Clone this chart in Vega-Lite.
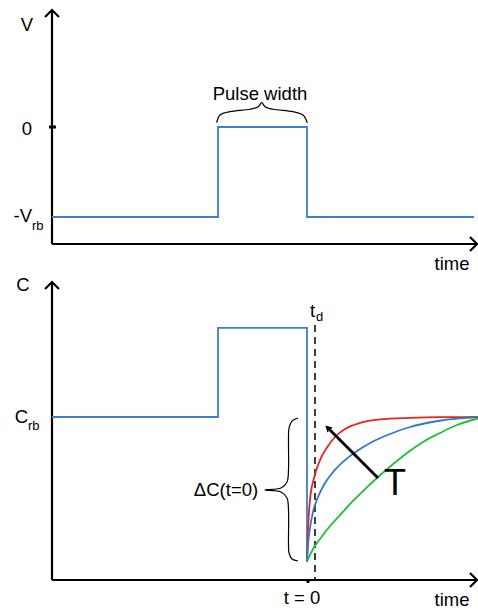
{
  "$schema": "https://vega.github.io/schema/vega-lite/v6.json",
  "padding": 0,
  "spacing": 0,
  "bounds": "flush",
  "background": "white",
  "config": {"view": {"stroke": null}, "text": {"font": "Liberation Sans", "fill": "#000000"}},
  "datasets": {
    "topAxes": [
      {"part": "yaxis", "i": 0, "t": -25.5, "v": -1.3}, {"part": "yaxis", "i": 1, "t": -25.5, "v": 1.3},
      {"part": "xaxis", "i": 0, "t": -25.5, "v": -1.3}, {"part": "xaxis", "i": 1, "t": 16.9, "v": -1.3},
      {"part": "yarrow", "i": 0, "t": -26.2, "v": 1.222}, {"part": "yarrow", "i": 1, "t": -25.5, "v": 1.3}, {"part": "yarrow", "i": 2, "t": -24.8, "v": 1.222},
      {"part": "xarrow", "i": 0, "t": 16.3, "v": -1.222}, {"part": "xarrow", "i": 1, "t": 17.0, "v": -1.3}, {"part": "xarrow", "i": 2, "t": 16.3, "v": -1.378}
    ],
    "topTick": [{"i": 0, "t": -25.8, "v": 0}, {"i": 1, "t": -25.1, "v": 0}],
    "vPulse": [
      {"i": 0, "t": -25.5, "v": -1}, {"i": 1, "t": -8.9, "v": -1}, {"i": 2, "t": -8.9, "v": 0},
      {"i": 3, "t": 0, "v": 0}, {"i": 4, "t": 0, "v": -1}, {"i": 5, "t": 16.7, "v": -1}
    ],
    "topBrace": [
      {"i": 0, "t": -9.03, "v": 0.048}, {"i": 1, "t": -8.7, "v": 0.133}, {"i": 2, "t": -7.7, "v": 0.17},
      {"i": 3, "t": -5.7, "v": 0.197}, {"i": 4, "t": -4.87, "v": 0.226}, {"i": 5, "t": -4.53, "v": 0.27},
      {"i": 6, "t": -4.2, "v": 0.226}, {"i": 7, "t": -3.4, "v": 0.197}, {"i": 8, "t": -1.4, "v": 0.17},
      {"i": 9, "t": -0.4, "v": 0.133}, {"i": 10, "t": 0.03, "v": 0.048}
    ],
    "topLabels": [
      {"label": "V", "t": -28.0, "v": 1.133},
      {"label": "0", "t": -28.0, "v": -0.022},
      {"label": "Pulse width", "t": -4.7, "v": 0.367},
      {"label": "time", "t": 14.5, "v": -1.522}
    ],
    "topLabelsRight": [{"label": "-V", "t": -27.5, "v": -0.989}],
    "topSubs": [{"label": "rb", "t": -27.5, "v": -1.1}],
    "botAxes": [
      {"part": "yaxis", "i": 0, "t": -25.5, "c": -0.124}, {"part": "yaxis", "i": 1, "t": -25.5, "c": 1.931},
      {"part": "xaxis", "i": 0, "t": -25.5, "c": -0.124}, {"part": "xaxis", "i": 1, "t": 16.9, "c": -0.124},
      {"part": "yarrow", "i": 0, "t": -26.2, "c": 1.883}, {"part": "yarrow", "i": 1, "t": -25.5, "c": 1.931}, {"part": "yarrow", "i": 2, "t": -24.8, "c": 1.883},
      {"part": "xarrow", "i": 0, "t": 16.3, "c": -0.076}, {"part": "xarrow", "i": 1, "t": 17.0, "c": -0.124}, {"part": "xarrow", "i": 2, "t": 16.3, "c": -0.172}
    ],
    "cPulse": [
      {"i": 0, "t": -25.5, "c": 1}, {"i": 1, "t": -8.9, "c": 1}, {"i": 2, "t": -8.9, "c": 1.614},
      {"i": 3, "t": 0, "c": 1.614}, {"i": 4, "t": 0, "c": 0}
    ],
    "tdLine": [{"i": 0, "t": 0.8, "c": 1.634}, {"i": 1, "t": 0.8, "c": -0.124}],
    "origin": [{"t": 0.1, "c": -0.135}],
    "curves": [
      {"series": "fast", "i": 0, "t": 0, "c": 0}, {"series": "fast", "i": 1, "t": 0.1, "c": 0.221},
      {"series": "fast", "i": 2, "t": 0.3, "c": 0.428}, {"series": "fast", "i": 3, "t": 0.7, "c": 0.579},
      {"series": "fast", "i": 4, "t": 1.3, "c": 0.703}, {"series": "fast", "i": 5, "t": 2.1, "c": 0.8},
      {"series": "fast", "i": 6, "t": 2.8, "c": 0.862}, {"series": "fast", "i": 7, "t": 3.8, "c": 0.917},
      {"series": "fast", "i": 8, "t": 5.3, "c": 0.959}, {"series": "fast", "i": 9, "t": 7.3, "c": 0.983},
      {"series": "fast", "i": 10, "t": 10.3, "c": 0.994}, {"series": "fast", "i": 11, "t": 13.3, "c": 0.999},
      {"series": "fast", "i": 12, "t": 17.1, "c": 1.0},
      {"series": "medium", "i": 0, "t": 0, "c": 0}, {"series": "medium", "i": 1, "t": 0.1, "c": 0.117},
      {"series": "medium", "i": 2, "t": 0.3, "c": 0.234}, {"series": "medium", "i": 3, "t": 0.6, "c": 0.345},
      {"series": "medium", "i": 4, "t": 1.1, "c": 0.448}, {"series": "medium", "i": 5, "t": 1.8, "c": 0.545},
      {"series": "medium", "i": 6, "t": 2.7, "c": 0.628}, {"series": "medium", "i": 7, "t": 3.8, "c": 0.703},
      {"series": "medium", "i": 8, "t": 5.0, "c": 0.766}, {"series": "medium", "i": 9, "t": 6.5, "c": 0.828},
      {"series": "medium", "i": 10, "t": 8.3, "c": 0.883}, {"series": "medium", "i": 11, "t": 10.3, "c": 0.931},
      {"series": "medium", "i": 12, "t": 12.8, "c": 0.969}, {"series": "medium", "i": 13, "t": 15.3, "c": 0.99},
      {"series": "medium", "i": 14, "t": 17.1, "c": 0.997},
      {"series": "slow", "i": 0, "t": 0, "c": 0}, {"series": "slow", "i": 1, "t": 0.2, "c": 0.034},
      {"series": "slow", "i": 2, "t": 0.6, "c": 0.09}, {"series": "slow", "i": 3, "t": 1.3, "c": 0.159},
      {"series": "slow", "i": 4, "t": 2.3, "c": 0.248}, {"series": "slow", "i": 5, "t": 3.3, "c": 0.324},
      {"series": "slow", "i": 6, "t": 4.5, "c": 0.414}, {"series": "slow", "i": 7, "t": 5.8, "c": 0.503},
      {"series": "slow", "i": 8, "t": 7.1, "c": 0.586}, {"series": "slow", "i": 9, "t": 8.5, "c": 0.669},
      {"series": "slow", "i": 10, "t": 10.0, "c": 0.752}, {"series": "slow", "i": 11, "t": 11.6, "c": 0.828},
      {"series": "slow", "i": 12, "t": 13.3, "c": 0.89}, {"series": "slow", "i": 13, "t": 15.0, "c": 0.945},
      {"series": "slow", "i": 14, "t": 17.1, "c": 0.99}
    ],
    "tArrow": [{"i": 0, "t": 7.1, "c": 0.579}, {"i": 1, "t": 2.3, "c": 0.91}],
    "tArrowHead": [{"t": 2.07, "c": 0.926}],
    "botBrace": [
      {"i": 0, "t": -0.9, "c": 0.993}, {"i": 1, "t": -1.5, "c": 0.972}, {"i": 2, "t": -1.8, "c": 0.924},
      {"i": 3, "t": -1.85, "c": 0.841}, {"i": 4, "t": -1.85, "c": 0.634}, {"i": 5, "t": -2.0, "c": 0.552},
      {"i": 6, "t": -2.6, "c": 0.51}, {"i": 7, "t": -4.2, "c": 0.497}, {"i": 8, "t": -2.6, "c": 0.483},
      {"i": 9, "t": -2.0, "c": 0.441}, {"i": 10, "t": -1.85, "c": 0.359}, {"i": 11, "t": -1.85, "c": 0.117},
      {"i": 12, "t": -1.8, "c": 0.062}, {"i": 13, "t": -1.5, "c": 0.021}, {"i": 14, "t": -0.9, "c": 0.007}
    ],
    "botLabels": [
      {"label": "C", "t": -28.4, "c": 1.91},
      {"label": "ΔC(t=0)", "t": -8.1, "c": 0.497},
      {"label": "t = 0", "t": -0.5, "c": -0.248},
      {"label": "time", "t": 14.5, "c": -0.262}
    ],
    "botLabelsRight": [{"label": "C", "t": -27.9, "c": 1.0}],
    "botLabelsLeft": [{"label": "t", "t": 0.3, "c": 1.731}],
    "botSubs": [{"label": "rb", "t": -27.9, "c": 0.938}, {"label": "d", "t": 0.9, "c": 1.69}],
    "bigT": [{"label": "T", "t": 8.8, "c": 0.535}]
  },
  "vconcat": [
    {
      "width": 478,
      "height": 272,
      "encoding": {
        "x": {"field": "t", "type": "quantitative", "scale": {"domain": [-30.7, 17.1], "nice": false, "zero": false}, "axis": null},
        "y": {"field": "v", "type": "quantitative", "scale": {"domain": [-1.6111, 1.4111], "nice": false, "zero": false}, "axis": null}
      },
      "layer": [
        {"data": {"name": "topAxes"}, "mark": {"type": "line", "color": "#000000", "strokeWidth": 2.2, "strokeJoin": "miter"},
         "encoding": {"detail": {"field": "part"}, "order": {"field": "i", "type": "quantitative"}}},
        {"data": {"name": "topTick"}, "mark": {"type": "line", "color": "#000000", "strokeWidth": 3},
         "encoding": {"order": {"field": "i", "type": "quantitative"}}},
        {"data": {"name": "vPulse"}, "mark": {"type": "line", "color": "#3b7dd8", "strokeWidth": 1.8, "strokeJoin": "miter"},
         "encoding": {"order": {"field": "i", "type": "quantitative"}}},
        {"data": {"name": "topBrace"}, "mark": {"type": "line", "color": "#000000", "strokeWidth": 1.2, "interpolate": "catmull-rom"},
         "encoding": {"order": {"field": "i", "type": "quantitative"}}},
        {"data": {"name": "topLabels"}, "mark": {"type": "text", "fontSize": 18.5, "align": "center", "baseline": "middle"},
         "encoding": {"text": {"field": "label"}}},
        {"data": {"name": "topLabelsRight"}, "mark": {"type": "text", "fontSize": 18.5, "align": "right", "baseline": "middle"},
         "encoding": {"text": {"field": "label"}}},
        {"data": {"name": "topSubs"}, "mark": {"type": "text", "fontSize": 13, "align": "left", "baseline": "middle"},
         "encoding": {"text": {"field": "label"}}}
      ]
    },
    {
      "width": 478,
      "height": 340,
      "encoding": {
        "x": {"field": "t", "type": "quantitative", "scale": {"domain": [-30.7, 17.1], "nice": false, "zero": false}, "axis": null},
        "y": {"field": "c", "type": "quantitative", "scale": {"domain": [-0.3448, 2.0], "nice": false, "zero": false}, "axis": null}
      },
      "layer": [
        {"data": {"name": "botAxes"}, "mark": {"type": "line", "color": "#000000", "strokeWidth": 2.2, "strokeJoin": "miter"},
         "encoding": {"detail": {"field": "part"}, "order": {"field": "i", "type": "quantitative"}}},
        {"data": {"name": "cPulse"}, "mark": {"type": "line", "color": "#3b7dd8", "strokeWidth": 1.8, "strokeJoin": "miter"},
         "encoding": {"order": {"field": "i", "type": "quantitative"}}},
        {"data": {"name": "tdLine"}, "mark": {"type": "line", "color": "#000000", "strokeWidth": 1.5, "strokeDash": [7, 5]},
         "encoding": {"order": {"field": "i", "type": "quantitative"}}},
        {"data": {"name": "origin"}, "mark": {"type": "point", "filled": true, "color": "#000000", "size": 12, "opacity": 1}},
        {"data": {"name": "curves"}, "mark": {"type": "line", "strokeWidth": 1.8, "interpolate": "monotone"},
         "encoding": {
           "color": {"field": "series", "type": "nominal", "scale": {"domain": ["fast", "medium", "slow"], "range": ["#e0281b", "#2b78d8", "#1fc234"]}, "legend": null},
           "order": {"field": "i", "type": "quantitative"}}},
        {"data": {"name": "tArrow"}, "mark": {"type": "line", "color": "#000000", "strokeWidth": 2.8},
         "encoding": {"order": {"field": "i", "type": "quantitative"}}},
        {"data": {"name": "tArrowHead"}, "mark": {"type": "point", "shape": "triangle-up", "filled": true, "color": "#000000", "size": 55, "angle": -45, "opacity": 1}},
        {"data": {"name": "botBrace"}, "mark": {"type": "line", "color": "#000000", "strokeWidth": 1.2, "interpolate": "catmull-rom"},
         "encoding": {"order": {"field": "i", "type": "quantitative"}}},
        {"data": {"name": "botLabels"}, "mark": {"type": "text", "fontSize": 18.5, "align": "center", "baseline": "middle"},
         "encoding": {"text": {"field": "label"}}},
        {"data": {"name": "botLabelsRight"}, "mark": {"type": "text", "fontSize": 18.5, "align": "right", "baseline": "middle"},
         "encoding": {"text": {"field": "label"}}},
        {"data": {"name": "botLabelsLeft"}, "mark": {"type": "text", "fontSize": 18.5, "align": "left", "baseline": "middle"},
         "encoding": {"text": {"field": "label"}}},
        {"data": {"name": "botSubs"}, "mark": {"type": "text", "fontSize": 13, "align": "left", "baseline": "middle"},
         "encoding": {"text": {"field": "label"}}},
        {"data": {"name": "bigT"}, "mark": {"type": "text", "fontSize": 36, "align": "center", "baseline": "middle"},
         "encoding": {"text": {"field": "label"}}}
      ]
    }
  ]
}
